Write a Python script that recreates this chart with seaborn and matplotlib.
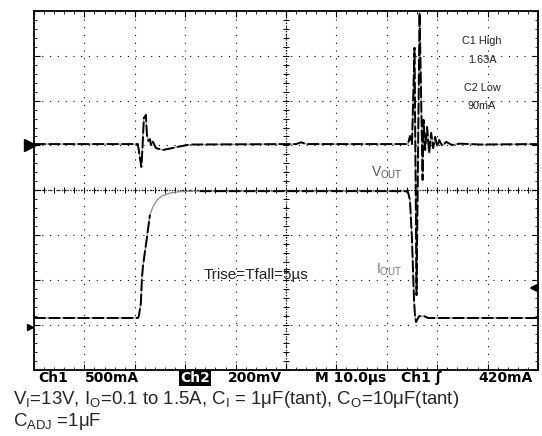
import numpy as np
import matplotlib
matplotlib.use("Agg")
import matplotlib.pyplot as plt
from matplotlib.ticker import MultipleLocator
import seaborn as sns

# time in us (10 us/div), level in screen divisions from the bottom edge
vout_t = [0, 20.6, 21.3, 21.5, 21.8, 22.2, 22.4, 22.7, 23.0, 23.2, 23.5, 24.2, 25.6, 27.4, 29.0, 31.0,
          52.0, 53.0, 54.0, 74.2, 74.6, 75.0, 75.5, 75.9, 76.5, 76.8, 77.1, 77.3, 77.6, 78.0, 78.4,
          78.8, 79.2, 79.6, 80.0, 80.4, 81.0, 81.8, 82.9, 84.5, 88.5, 100]
vout_y = [5.03, 5.03, 4.52, 4.90, 5.61, 5.68, 5.24, 5.10, 5.14, 5.01, 5.10, 4.94, 4.90, 4.94, 4.98, 5.02,
          5.03, 5.07, 5.03, 5.03, 5.21, 5.03, 7.18, 1.66, 7.96, 6.17, 4.23, 5.57, 4.90, 5.41, 4.83,
          5.28, 4.94, 5.19, 4.97, 5.12, 4.99, 5.08, 5.01, 5.04, 5.02, 5.03]

iout_t = [0, 20.6, 20.8, 21.2, 21.4, 21.6, 22.2, 22.6, 23.0, 23.6, 24.4, 25.4, 27.0, 29.0, 32.9,
          73.6, 74.2, 74.6, 75.0, 75.2, 75.4, 75.6, 75.8, 76.4, 77.4, 78.2, 100]
iout_y = [1.15, 1.15, 1.19, 1.48, 2.00, 2.29, 2.78, 3.11, 3.45, 3.63, 3.78, 3.87, 3.94, 3.97, 3.98,
          3.98, 3.96, 3.78, 2.89, 2.22, 1.55, 1.19, 1.06, 1.19, 1.19, 1.15, 1.15]

cursor_text = ["C1 High", "1.63A", "C2 Low", "90mA"]
cursor_y = [7.33, 6.91, 6.28, 5.88]

status_text = ["Ch1", "500mA", "Ch2", "200mV", "M 10.0µs", "Ch1 ʃ", "420mA"]
status_px = [38, 85, 180, 228, 315, 401, 478]

ch2_ground = 5.01
ch1_ground = 0.955
trigger_level = 1.82

sns.set_style("white")
plt.rcParams["font.family"] = ["Liberation Sans", "DejaVu Sans"]

W, H = 542, 436
fig = plt.figure(figsize=(W / 100, H / 100), dpi=100)
ax = fig.add_axes([34 / W, 1 - 369.5 / H, (538 - 34) / W, (369.5 - 11) / H])
ax.set_xlim(0, 100)
ax.set_ylim(0, 8)

# graticule
ax.xaxis.set_major_locator(MultipleLocator(10))
ax.xaxis.set_minor_locator(MultipleLocator(2))
ax.yaxis.set_major_locator(MultipleLocator(1))
ax.yaxis.set_minor_locator(MultipleLocator(0.2))
ax.tick_params(which="both", direction="in", top=True, right=True, bottom=True, left=True,
               labelbottom=False, labelleft=False, color="black")
ax.tick_params(which="major", length=4, width=0.8)
ax.tick_params(which="minor", length=2.5, width=0.6)
ax.grid(which="major", color="black", lw=0.8, linestyle=(0, (1, 6)))
for s in ax.spines.values():
    s.set_color("black")
    s.set_linewidth(1.3)
ax.axvline(50, color="black", lw=0.9, linestyle=(0, (1, 1.2)))
ax.axhline(4, color="black", lw=0.9, linestyle=(0, (1, 1.2)))
hx = np.arange(0, 100.01, 2)
vy = np.arange(0, 8.001, 0.2)
ax.plot(hx, np.full(hx.size, 4.0), ls="none", marker="|", ms=5, mew=0.7, color="black")
ax.plot(np.full(vy.size, 50.0), vy, ls="none", marker="_", ms=5, mew=0.7, color="black")

# traces: gray vector line with black sample dashes on top
sns.lineplot(x=vout_t, y=vout_y, sort=False, estimator=None, color="0.55", lw=0.9, ax=ax)
sns.lineplot(x=vout_t, y=vout_y, sort=False, estimator=None, color="black", lw=1.4,
             linestyle=(0, (6, 1.5)), ax=ax)
sns.lineplot(x=iout_t, y=iout_y, sort=False, estimator=None, color="0.55", lw=0.9, ax=ax)
sns.lineplot(x=iout_t[:9], y=iout_y[:9], sort=False, estimator=None, color="black", lw=1.4,
             linestyle=(0, (6, 1.5)), ax=ax)
sns.lineplot(x=iout_t[14:], y=iout_y[14:], sort=False, estimator=None, color="black", lw=1.4,
             linestyle=(0, (6, 1.5)), ax=ax)

# channel / trigger markers
ax.plot([-0.8], [ch2_ground], marker=">", ms=9, color="black", clip_on=False)
ax.plot([-0.8], [ch1_ground], marker=">", ms=5, color="black", clip_on=False)
ax.annotate("", xy=(98.2, trigger_level), xytext=(100, trigger_level),
            arrowprops=dict(arrowstyle="-|>", lw=1.8, mutation_scale=10, color="black",
                            shrinkA=0, shrinkB=0))

# on-screen annotations
for txt, y in zip(cursor_text, cursor_y):
    ax.text(88.9, y, txt, ha="center", va="center", fontsize=7.8, color="#222222")
ax.text(70.0, 4.39, r"V$_\mathregular{OUT}$", ha="center", va="center", fontsize=10, color="#555555")
ax.text(70.4, 2.22, r"I$_\mathregular{OUT}$", ha="center", va="center", fontsize=10, color="#777777")
ax.text(44.0, 2.11, "Trise=Tfall=5µs", ha="center", va="center", fontsize=11, color="#222222")
ax.set_xlabel("")
ax.set_ylabel("")

# scope status line
for txt, px in zip(status_text, status_px):
    kw = dict(fontsize=10, fontweight="bold", family="DejaVu Sans", va="center", ha="left")
    if txt == "Ch2":
        fig.text(px / W, 1 - 378 / H, txt, color="white",
                 bbox=dict(facecolor="black", edgecolor="none", pad=1), **kw)
    else:
        fig.text(px / W, 1 - 378 / H, txt, color="black", **kw)

# test conditions caption
fig.text(13 / W, 1 - 399 / H,
         r"V$_\mathregular{I}$=13V, I$_\mathregular{O}$=0.1 to 1.5A, C$_\mathregular{I}$ = 1μF(tant), "
         r"C$_\mathregular{O}$=10μF(tant)", fontsize=13.4, va="center", ha="left")
fig.text(13 / W, 1 - 421.5 / H, r"C$_\mathregular{ADJ}$ =1μF", fontsize=13.4, va="center", ha="left")

fig.savefig("out.png", dpi=100)
